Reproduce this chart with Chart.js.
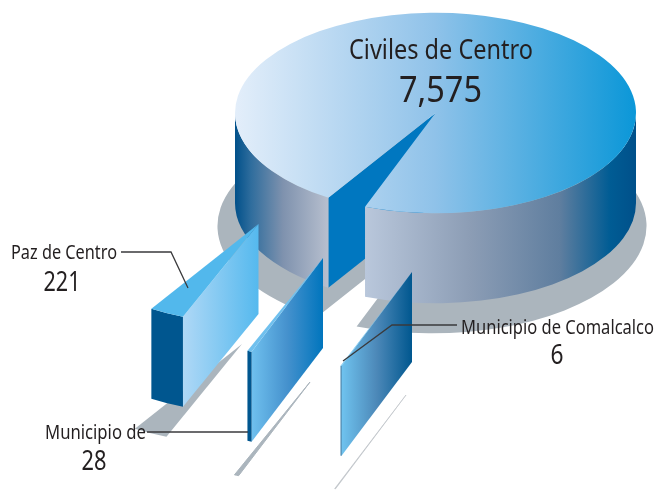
<!DOCTYPE html>
<html>
<head>
<meta charset="utf-8">
<title>Civiles de Centro</title>
<script src="https://cdn.jsdelivr.net/npm/chart.js@4"></script>
<style>
html, body { margin: 0; padding: 0; background: #fff; }
#wrap { width: 655px; height: 491px; }
</style>
</head>
<body>
<div id="wrap"><canvas id="pie" width="655" height="491"></canvas></div>
<script>
// Data
const categories = ['Civiles de Centro', 'Municipio de Comalcalco', 'Municipio de', 'Paz de Centro'];
const values = [7575, 6, 28, 221];

// 3D look
const PIE_X = 435.5;
const PIE_Y = 113;
const PIE_R = 200.5;
const TILT = 0.5;
const DEPTH = 90;
const GREY = '#abb5bd';
const FONT = '"Noto Sans", "Liberation Sans", sans-serif';

// Per slice styling, same order as categories
const sliceStyles = [
    {
        offset: [0, 0],
        shadow: { offset: [-3.5, 113], scale: 1.07, color: GREY },
        top: [[0, '#e3eefa'], [0.5, '#8fc2e9'], [1, '#0b97d8']],
        cut: [[0, '#0077c0'], [1, '#0077c0']],
        wall: [[0, '#00508a'], [0.04, '#2f6d9d'], [0.12, '#7f92ae'], [0.234, '#b8c0cf'], [0.32, '#bac8dc'],
               [0.586, '#8c9db5'], [0.81, '#5f7e9f'], [0.935, '#005c94'], [1, '#00508a']]
    },
    {
        offset: [-23.5, 159],
        shadow: { offset: [-29.5, 282], scale: 1, color: '#bcc1c6', edge: 0.6 },
        top: [[0, '#6fc3ef'], [1, '#6fc3ef']],
        cut: [[0, '#6fc3ef'], [0.5, '#4c88b8'], [1, '#00578f']],
        wall: [[0, '#00568f'], [1, '#00568f']]
    },
    {
        offset: [-112.5, 145],
        shadow: { offset: [-125.5, 269], scale: 1, color: GREY, edge: 1 },
        top: [[0, '#6fc0ee'], [1, '#6fc0ee']],
        cut: [[0, '#6fc0ee'], [0.5, '#4591cd'], [1, '#0075bd']],
        wall: [[0, '#00568f'], [1, '#00568f']]
    },
    {
        offset: [-177, 111],
        shadow: { offset: [-193.5, 231], scale: 1, color: GREY },
        top: [[0, '#52b8ec'], [1, '#52b8ec']],
        cut: [[0, '#afd8f6'], [1, '#55b9ee']],
        wall: [[0, '#00568f'], [1, '#00568f']]
    }
];

// Text placement, same order as categories. The width caps condense the font
const labelStyles = [
    { x: 441, nameY: 59, valueX: 440.5, valueY: 102, nameSize: 27, valueSize: 37, nameW: 184, valueW: 83 },
    { x: 557.5, nameY: 334, valueX: 557, valueY: 364, nameSize: 19, valueSize: 28, nameW: 193, valueW: 13 },
    { x: 95.5, nameY: 439, valueX: 94, valueY: 470, nameSize: 19, valueSize: 28, nameW: 101, valueW: 25 },
    { x: 64, nameY: 259, valueX: 62, valueY: 291, nameSize: 19, valueSize: 28, nameW: 106, valueW: 37 }
];

const leaderLines = [
    [[121, 252], [171, 252], [188, 288]],
    [[147, 432], [248, 432]],
    [[457, 325], [392, 325], [343, 361]]
];

function makeGradient(ctx, x0, x1, stops) {
    const g = ctx.createLinearGradient(x0, 0, x1, 0);
    stops.forEach(s => g.addColorStop(s[0], s[1]));
    return g;
}

function topFacePath(ctx, cx, cy, r, start, end) {
    ctx.beginPath();
    ctx.moveTo(cx, cy);
    ctx.ellipse(cx, cy, r, r * TILT, 0, start, end);
    ctx.closePath();
}

// Outer wall, only the part of the rim that faces the viewer
function drawOuterWall(ctx, cx, cy, r, start, end, fill) {
    for (let k = -1; k <= 2; k++) {
        const a = Math.max(start, 2 * Math.PI * k);
        const b = Math.min(end, 2 * Math.PI * k + Math.PI);
        if (a >= b) continue;
        ctx.beginPath();
        ctx.ellipse(cx, cy, r, r * TILT, 0, a, b);
        ctx.ellipse(cx, cy + DEPTH, r, r * TILT, 0, b, a, true);
        ctx.closePath();
        ctx.fillStyle = fill;
        ctx.fill();
    }
}

function drawCutWall(ctx, cx, cy, r, angle, fill) {
    const ex = cx + r * Math.cos(angle);
    const ey = cy + r * TILT * Math.sin(angle);
    ctx.beginPath();
    ctx.moveTo(cx, cy);
    ctx.lineTo(ex, ey);
    ctx.lineTo(ex, ey + DEPTH);
    ctx.lineTo(cx, cy + DEPTH);
    ctx.closePath();
    ctx.fillStyle = fill;
    ctx.fill();
}

const pie3d = {
    id: 'pie3d',
    // the library's flat arcs are replaced, their angles are used below
    beforeDatasetsDraw(chart) {
        const ctx = chart.ctx;
        const arcs = chart.getDatasetMeta(0).data;

        ctx.save();
        // floor shadows first
        arcs.forEach((arc, i) => {
            const s = sliceStyles[i].shadow;
            topFacePath(ctx, PIE_X + s.offset[0], PIE_Y + s.offset[1], PIE_R * s.scale, arc.startAngle, arc.endAngle);
            ctx.fillStyle = s.color;
            ctx.fill();
            // the thin slices would fade out near the tip without this
            if (s.edge) {
                ctx.strokeStyle = s.color;
                ctx.lineWidth = s.edge;
                ctx.stroke();
            }
        });

        arcs.forEach((arc, i) => {
            const st = sliceStyles[i];
            const cx = PIE_X + st.offset[0];
            const cy = PIE_Y + st.offset[1];
            const ex = cx + PIE_R * Math.cos(arc.startAngle);
            const left = i === 0 ? cx - PIE_R : ex;
            const right = i === 0 ? cx + PIE_R : cx;

            drawCutWall(ctx, cx, cy, PIE_R, arc.startAngle, makeGradient(ctx, left, right, st.cut));
            drawOuterWall(ctx, cx, cy, PIE_R, arc.startAngle, arc.endAngle, makeGradient(ctx, left, right, st.wall));
            topFacePath(ctx, cx, cy, PIE_R, arc.startAngle, arc.endAngle);
            ctx.fillStyle = makeGradient(ctx, left, right, st.top);
            ctx.fill();
        });
        ctx.restore();
        return false;
    },
    afterDraw(chart) {
        const ctx = chart.ctx;
        ctx.save();

        ctx.strokeStyle = '#3a3a3c';
        ctx.lineWidth = 1.3;
        leaderLines.forEach(line => {
            ctx.beginPath();
            line.forEach((p, i) => i ? ctx.lineTo(p[0], p[1]) : ctx.moveTo(p[0], p[1]));
            ctx.stroke();
        });

        ctx.fillStyle = '#231f20';
        ctx.textAlign = 'center';
        ctx.textBaseline = 'alphabetic';
        categories.forEach((name, i) => {
            const l = labelStyles[i];
            ctx.font = l.nameSize + 'px ' + FONT;
            ctx.fillText(name, l.x, l.nameY, l.nameW);
            ctx.font = l.valueSize + 'px ' + FONT;
            ctx.fillText(values[i].toLocaleString('en-US'), l.valueX, l.valueY, l.valueW);
        });
        ctx.restore();
    }
};

new Chart(document.getElementById('pie').getContext('2d'), {
    type: 'pie',
    data: {
        labels: categories,
        datasets: [{ data: values, borderWidth: 0 }]
    },
    options: {
        responsive: false,
        animation: false,
        rotation: 212.3,
        plugins: {
            legend: { display: false },
            tooltip: { enabled: false }
        }
    },
    plugins: [pie3d]
});
</script>
</body>
</html>
